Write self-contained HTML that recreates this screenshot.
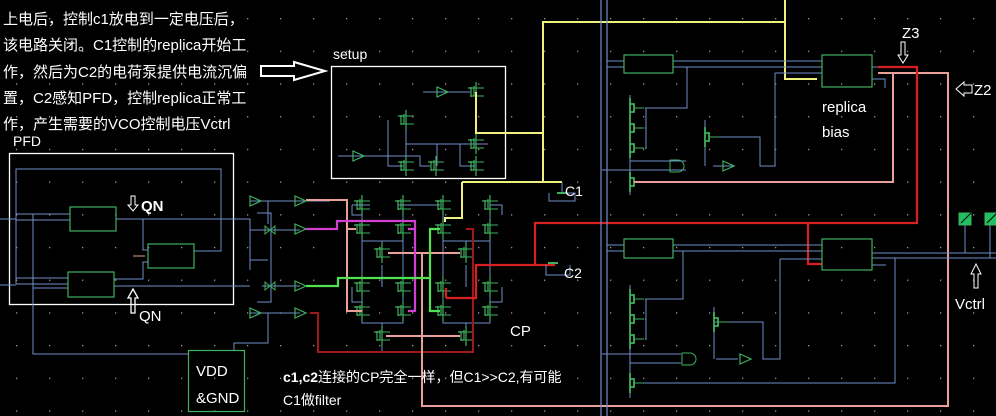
<!DOCTYPE html>
<html><head><meta charset="utf-8"><style>
html,body{margin:0;padding:0;background:#000;width:996px;height:416px;overflow:hidden}
svg{display:block}
text{font-family:"Liberation Sans","Noto Sans CJK SC",sans-serif;fill:#fff}
</style></head><body>
<svg width="996" height="416" viewBox="0 0 996 416" xmlns="http://www.w3.org/2000/svg">
<defs>
<pattern id="dots" x="16" y="18" width="33" height="32.7" patternUnits="userSpaceOnUse">
<rect x="0" y="0" width="1.3" height="1.3" fill="#9a9a9a"/>
</pattern>
<g id="t"><path d="M0,-10V10M-5,-5V5M-5,-4H-8M-5,4H-2M-2,4V-6M-5,-4h3" stroke="#3fb060" fill="none" stroke-width="1.2"/><path d="M-2,-4H8M-2,4H8" stroke="#3fb060" stroke-width="1"/></g>
<g id="tb"><path d="M0,-10V10M0,-4H4V4H0" stroke="#3fb060" fill="none" stroke-width="1.8"/><path d="M4,0H14" stroke="#3fb060"/></g>
<g id="buf"><path d="M0,-5L11,0L0,5Z" stroke="#3fb060" fill="none" stroke-width="1.2"/></g>
</defs>
<rect width="996" height="416" fill="#000"/>
<rect width="996" height="416" fill="url(#dots)"/>

<g font-size="15">
<text x="3" y="24">上电后，控制c1放电到一定电压后，</text>
<text x="3" y="50">该电路关闭。C1控制的replica开始工</text>
<text x="3" y="77">作，然后为C2的电荷泵提供电流沉偏</text>
<text x="3" y="103">置，C2感知PFD，控制replica正常工</text>
<text x="3" y="129">作，产生需要的VCO控制电压Vctrl</text>
<text x="13" y="146" font-size="14">PFD</text>
<text x="333" y="59" font-size="14">setup</text>
</g>
<path d="M261,66H294V62L325,71L294,80V76H261Z" fill="none" stroke="#fff" stroke-width="2"/>

<rect x="331.5" y="66.5" width="174" height="112" fill="none" stroke="#fff" stroke-width="1.3"/>
<g stroke="#7090c8" fill="none" stroke-width="1">
<path d="M423,92H470M338,156H385M385,156H420M388,120V166H403M388,156H420V166H430M406,144H488M437,144V166M460,144V166H475M406,112V176M406,144"/>
</g>
<use href="#buf" x="437" y="92"/><use href="#buf" x="353" y="156"/>
<use href="#t" x="476" y="92"/><use href="#t" x="406" y="120"/><use href="#t" x="476" y="144"/>
<use href="#t" x="406" y="166"/><use href="#t" x="436" y="166"/><use href="#t" x="476" y="166"/>

<rect x="9.5" y="153.5" width="224" height="151" fill="none" stroke="#fff" stroke-width="1.3"/>
<g stroke="#7090c8" fill="none" stroke-width="1">
<path d="M16,284V169H221V251H194M16,214H70M16,284H68M16,220H70M16,278H68M33,214V354H188M116,219H143V250H148M114,279H143V262H148M33,288H68M0,219H16M0,285H16M116,219H233M114,286H233M233,219H250V270M233,286H250M250,201H268M250,230H268M250,260H268M250,313H268"/>
<path d="M257,213H271V302H257M268,313V343H234V350M268,201V224"/>
</g>
<g fill="none" stroke="#3fb060" stroke-width="1.2">
<rect x="70" y="207" width="46" height="24"/>
<rect x="148" y="244" width="46" height="24"/>
<rect x="68" y="272" width="46" height="25"/>
</g>
<path d="M133,256H145" stroke="#e0a090"/>
<text x="141" y="211" font-size="15" font-weight="bold">QN</text>
<path d="M131,196h4v9h3l-5,6l-5,-6h3z" fill="none" stroke="#fff"/>
<text x="139" y="321" font-size="15">QN</text>
<path d="M131,313V298h-3l5,-9l5,9h-3V313z" fill="none" stroke="#fff" stroke-width="1.3"/>

<rect x="188.5" y="350.5" width="56" height="61" fill="none" stroke="#3fb060" stroke-width="1.2"/>
<text x="196" y="376" font-size="15">VDD</text>
<text x="196" y="403" font-size="15">&amp;GND</text>

<g stroke="#7090c8" fill="none"><path d="M262,201H330M262,230H300M262,286H300M262,313H300"/></g>
<use href="#buf" x="250" y="201"/><use href="#buf" x="295" y="201"/>
<use href="#buf" x="295" y="229"/><use href="#buf" x="295" y="286"/>
<use href="#buf" x="250" y="313"/><use href="#buf" x="295" y="313"/>
<path d="M265,226l5,4l5,-4v8l-5,-4l-5,4z M265,282l5,4l5,-4v8l-5,-4l-5,4z" fill="none" stroke="#3fb060"/>

<g stroke="#7090c8" fill="none">
<path d="M352,205H370M352,205V215H362M398,205H440M490,205H502V215M362,229V241H403V229M443,229V241H490V229M382,241V253M466,241V253M382,265V287M466,265V287"/>
<path d="M352,287V302H362M502,287V302H490M362,311V323H403V311M443,311V323H490V311M382,323V336M466,323V346M382,346V352"/>
<path d="M362,195V321M403,195V321M443,195V321M490,195V321"/>
</g>
<g>
<use href="#t" x="362" y="205"/><use href="#t" x="403" y="205"/><use href="#t" x="443" y="205"/><use href="#t" x="490" y="205"/>
<use href="#t" x="362" y="229"/><use href="#t" x="403" y="229"/><use href="#t" x="443" y="229"/><use href="#t" x="490" y="229"/>
<use href="#t" x="382" y="253"/><use href="#t" x="466" y="253"/>
<use href="#t" x="362" y="287"/><use href="#t" x="403" y="287"/><use href="#t" x="443" y="287"/><use href="#t" x="490" y="287"/>
<use href="#t" x="362" y="311"/><use href="#t" x="403" y="311"/><use href="#t" x="443" y="311"/><use href="#t" x="490" y="311"/>
<use href="#t" x="382" y="336"/><use href="#t" x="466" y="336"/>
</g>
<text x="510" y="336" font-size="15">CP</text>
<path d="M310,313H318V352H473V229H466" fill="none" stroke="#a01818" stroke-width="2"/>
<path d="M306,200H347V311H362M347,229H356M388,253H460M386,336H460M422,253V406H948V73H878M893,73" fill="none" stroke="#e8a098" stroke-width="2"/>
<path d="M306,229H337V221H415V311H408M408,229H415" fill="none" stroke="#d040d0" stroke-width="2.2"/>
<path d="M306,286H338V278H430V229H440M430,278V311H440" fill="none" stroke="#50e050" stroke-width="2.2"/>
<path d="M446,298H476V265H555M535,265V223H917V67H878M808,223V264H822M446,298V288" fill="none" stroke="#d82020" stroke-width="2.2"/>
<path d="M476,92V133H543M543,182V22H785V0M785,22V79H817M462,182H562M462,182V218H445V222" fill="none" stroke="#f0f080" stroke-width="2"/>
<path d="M562,182V192M549,193V201H575V193H562M546,265V275H570V265" fill="none" stroke="#7090c8"/>
<path d="M557,193h10M548,263h10" stroke="#3fb060" stroke-width="2"/>
<text x="565" y="196" font-size="14">C1</text>
<text x="564" y="278" font-size="14">C2</text>

<text x="283" y="382" font-size="14"><tspan font-weight="bold">c1,c2</tspan>连接的CP完全一样，但C1&gt;&gt;C2,有可能</text>
<text x="283" y="405" font-size="14">C1做filter</text>

<path d="M601,0V416M607,0V416" stroke="#7090c8" stroke-width="1.2"/>
<g stroke="#7090c8" fill="none">
<path d="M607,61H624M607,67H624M673,61H822M673,67H822M687,67V108H645M645,128H646M645,148H646M646,108V149M775,73H822M775,73V166H760V137H710M602,170H686M630,161H686M713,166H735M770,166"/>
<path d="M872,67H878M872,79H885V88M630,95V195M705,120V166"/>
</g>
<rect x="624" y="55" width="49" height="18" fill="none" stroke="#3fb060" stroke-width="1.2"/>
<rect x="822" y="55" width="50" height="32" fill="none" stroke="#3fb060" stroke-width="1.2"/>
<use href="#tb" x="630" y="108"/><use href="#tb" x="630" y="128"/><use href="#tb" x="630" y="148"/><use href="#tb" x="630" y="182"/><use href="#tb" x="705" y="137"/>
<path d="M670,160h8a6,6 0 0 1 0,12h-8z" fill="none" stroke="#3fb060"/><use href="#buf" x="723" y="166"/>
<path d="M634,182H893V73" fill="none" stroke="#e8a098" stroke-width="2"/>
<text x="822" y="112" font-size="15">replica</text>
<text x="822" y="137" font-size="15">bias</text>
<text x="902" y="38" font-size="15">Z3</text>
<path d="M901,42h4v13h3l-5,8l-5,-8h3z" fill="none" stroke="#fff"/>
<text x="974" y="95" font-size="15">Z2</text>
<path d="M972,85h-8v-3l-8,7l8,7v-3h8z" fill="none" stroke="#fff"/>

<g stroke="#7090c8" fill="none">
<path d="M607,245H624M607,251H624M673,245H822M673,251H822M683,251V299H645M645,319H646M645,339H646M646,299V340M780,259H822M780,259V359H763V322H715M602,354H681M630,363H681M716,359H738M872,253H996M872,258H996M872,265H886M895,258V383H635M630,285V398M714,307V359"/>
<path d="M965,225V253M990,225V258"/>
</g>
<rect x="624" y="239" width="49" height="19" fill="none" stroke="#3fb060" stroke-width="1.2"/>
<rect x="822" y="239" width="50" height="31" fill="none" stroke="#3fb060" stroke-width="1.2"/>
<use href="#tb" x="630" y="299"/><use href="#tb" x="630" y="319"/><use href="#tb" x="630" y="339"/><use href="#tb" x="630" y="383"/><use href="#tb" x="714" y="322"/>
<path d="M682,353h8a6,6 0 0 1 0,12h-8z" fill="none" stroke="#3fb060"/><use href="#buf" x="740" y="359"/>
<rect x="959" y="213" width="12" height="12" fill="#20c060" stroke="#3fb060"/>
<rect x="985" y="213" width="12" height="12" fill="#20c060" stroke="#3fb060"/>
<path d="M961,223L971,213" stroke="#000"/><path d="M987,223L997,213" stroke="#000"/>
<path d="M974,288h4v-14h3l-5,-10l-5,10h3z" fill="none" stroke="#fff"/>
<text x="955" y="309" font-size="15">Vctrl</text>
</svg>
</body></html>
